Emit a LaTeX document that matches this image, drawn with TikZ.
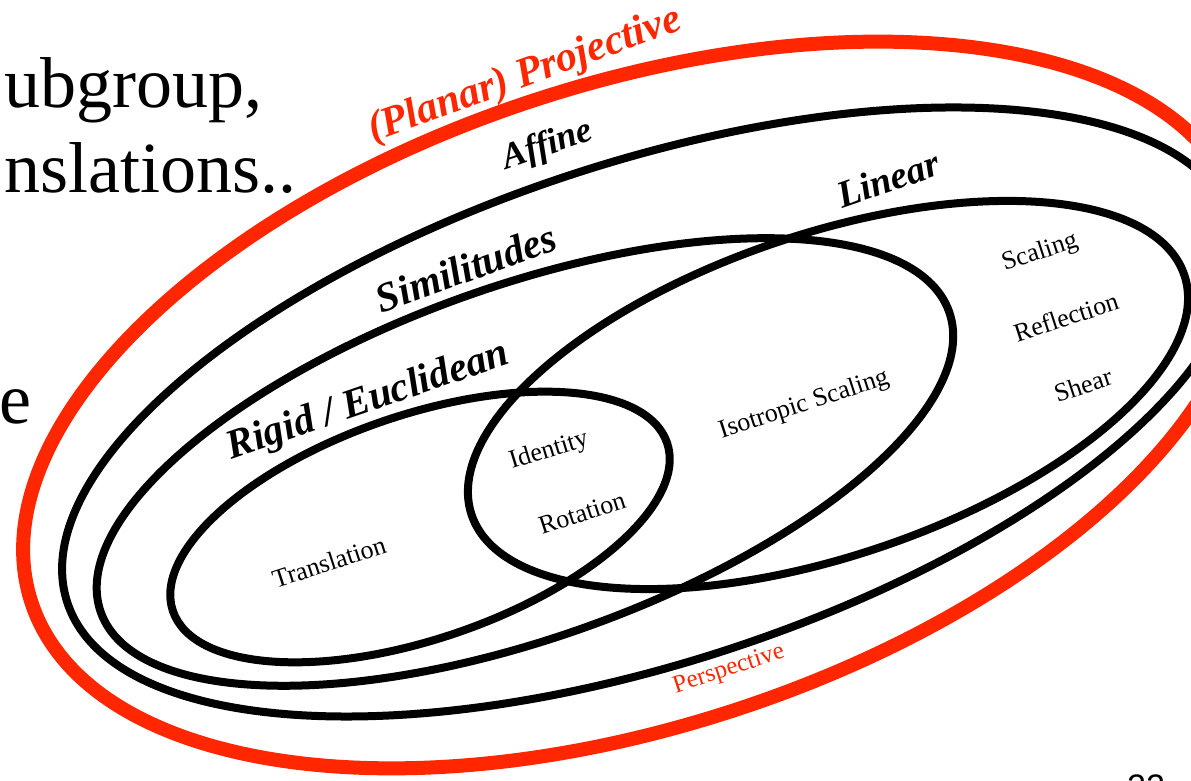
\documentclass[tikz,border=0pt]{standalone}
\usepackage{fontspec}
\setmainfont{Liberation Serif}
\newfontfamily\pagenofont{Liberation Sans}
\definecolor{projred}{RGB}{255,38,0}

\begin{document}
\begin{tikzpicture}[
	x=1pt, y=-1pt,
	grp/.style={draw=black, line width=8pt},
	proj/.style={draw=projred, line width=14pt},
	grpname/.style={font=\fontsize{41}{48}\selectfont\bfseries\itshape, rotate=19, inner sep=0pt},
	member/.style={font=\fontsize{26}{31}\selectfont, rotate=18, inner sep=0pt},
	slide/.style={font=\fontsize{72}{86}\selectfont, anchor=base east, inner sep=0pt},
	]
\useasboundingbox (0,0) rectangle (1191,781);
\clip (0,0) rectangle (1191,781);
% slide text behind the diagram
\node [slide] (sub) at (263,108) {ubgroup,};
\node [slide] (trans) at (297,192) {nslations..};
\node [slide] (line3) at (32,423) {e};
\node [font=\pagenofont\fontsize{34}{40}\selectfont, anchor=base west, inner sep=0pt] (pageno) at (1127,798) {22};
% the groups
\coordinate (cproj) at (635,405);
\coordinate (caff) at (650,412);
\coordinate (csim) at (525,462);
\coordinate (clin) at (828,395);
\coordinate (crig) at (420,527);
\draw [proj, rotate around={18.1:(cproj)}] (cproj) ellipse [x radius=635, y radius=321];
\draw [grp, rotate around={18.1:(caff)}] (caff) ellipse [x radius=613, y radius=250];
\draw [grp, rotate around={19.5:(csim)}] (csim) ellipse [x radius=450, y radius=176];
\draw [grp, rotate around={18.6:(clin)}] (clin) ellipse [x radius=376, y radius=161];
\draw [grp, rotate around={18.8:(crig)}] (crig) ellipse [x radius=261, y radius=112];
% group names
\node [grpname, text=projred, font=\fontsize{42}{50}\selectfont\bfseries\itshape, rotate=1] (projective) at (525,76) {(Planar) Projective};
\node [grpname, font=\fontsize{36}{43}\selectfont\bfseries\itshape] (affine) at (548,146) {Affine};
\node [grpname, rotate=1] (similitudes) at (466,268) {Similitudes};
\node [grpname, font=\fontsize{38}{45}\selectfont\bfseries\itshape] (linear) at (888,179) {Linear};
\node [grpname] (rigid) at (368,402) {Rigid / Euclidean};
% members
\node [member] (translation) at (329,562) {Translation};
\node [member, rotate=-1] (identity) at (549,451) {Identity};
\node [member] (rotation) at (582,513) {Rotation};
\node [member] (isotropic) at (804,405) {Isotropic Scaling};
\node [member] (scaling) at (1040,253) {Scaling};
\node [member] (reflection) at (1066,317) {Reflection};
\node [member] (shear) at (1083,385) {Shear};
\node [member, text=projred, font=\fontsize{25}{30}\selectfont] (perspective) at (729,670) {Perspective};
\end{tikzpicture}
\end{document}
